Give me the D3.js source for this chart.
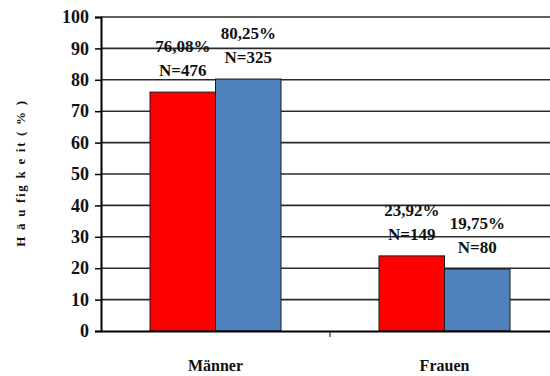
<!DOCTYPE html>
<html>
<head>
<meta charset="utf-8">
<script src="https://cdn.jsdelivr.net/npm/d3@7"></script>
<style>
  body { margin: 0; background: #fff; }
  svg { display: block; }
</style>
</head>
<body>
<svg id="chart" width="550" height="376"></svg>
<script>
// data
var categories = ["Männer", "Frauen"];
var series = ["a", "b"];
var percentValues = [[76.08, 80.25], [23.92, 19.75]];
var countValues = [[476, 325], [149, 80]];
var percentLabels = [["76,08%", "80,25%"], ["23,92%", "19,75%"]];
var yTicks = [0, 10, 20, 30, 40, 50, 60, 70, 80, 90, 100];
var colors = ["#ff0000", "#4f81bd"];

var serifFont = "Liberation Serif";

// set the dimensions (plot runs past the right edge, like the original)
var plotLeft = 101,
  plotRight = 559,
  plotTop = 17,
  plotBottom = 331;

var svg = d3.select("#chart");

var x = d3.scaleBand().domain(categories).range([plotLeft, plotRight]);
var inner = d3.scaleBand().domain(series).range([49, x.bandwidth() - 49]);
var y = d3.scaleLinear().domain([0, 100]).range([plotBottom, plotTop]);

// gridlines
svg
  .selectAll(".grid")
  .data(yTicks.slice(1))
  .enter()
  .append("line")
  .attr("x1", plotLeft)
  .attr("x2", plotRight)
  .attr("y1", (d) => y(d))
  .attr("y2", (d) => y(d))
  .attr("stroke", "#2a2a2a")
  .attr("stroke-width", 1.6);

// y axis
var yAxis = d3.axisLeft(y).tickValues(yTicks).tickSize(6).tickPadding(6);
var gy = svg.append("g").attr("transform", `translate(${plotLeft},0)`).call(yAxis);
gy.attr("font-family", serifFont).attr("font-size", 18).attr("font-weight", "bold");
gy.select(".domain").attr("stroke", "#000").attr("stroke-width", 2);
gy.selectAll(".tick line").attr("stroke", "#000").attr("stroke-width", 1.5);
gy.selectAll(".tick text").attr("fill", "#111");

// bars and labels
categories.forEach(function (cat, i) {
  series.forEach(function (s, j) {
    svg
      .append("rect")
      .attr("x", x(cat) + inner(s))
      .attr("y", y(percentValues[i][j]))
      .attr("width", inner.bandwidth())
      .attr("height", y(0) - y(percentValues[i][j]))
      .attr("fill", colors[j])
      .attr("stroke", "#1a1a1a")
      .attr("stroke-width", 1);

    var cx = x(cat) + inner(s) + inner.bandwidth() / 2;
    var ty = y(percentValues[i][j]) - 16;
    svg
      .append("text")
      .attr("x", cx)
      .attr("y", ty - 24)
      .attr("text-anchor", "middle")
      .attr("fill", "#111")
      .attr("font-family", serifFont)
      .attr("font-weight", "bold")
      .attr("font-size", 17)
      .text(percentLabels[i][j]);
    svg
      .append("text")
      .attr("x", cx)
      .attr("y", ty)
      .attr("text-anchor", "middle")
      .attr("fill", "#111")
      .attr("font-family", serifFont)
      .attr("font-weight", "bold")
      .attr("font-size", 17)
      .text("N=" + countValues[i][j]);
  });
});

// x axis
var xAxis = d3.axisBottom(x).tickSize(0).tickFormat("");
var gx = svg.append("g").attr("transform", `translate(0,${plotBottom})`).call(xAxis);
gx.select(".domain").attr("stroke", "#000").attr("stroke-width", 2);
gx.selectAll(".tick").remove();

// category boundary tick
svg
  .append("line")
  .attr("x1", x(categories[1]))
  .attr("x2", x(categories[1]))
  .attr("y1", plotBottom)
  .attr("y2", plotBottom + 6)
  .attr("stroke", "#000")
  .attr("stroke-width", 1);

// category labels
svg
  .selectAll(".cat")
  .data(categories)
  .enter()
  .append("text")
  .attr("x", (d) => x(d) + x.bandwidth() / 2)
  .attr("y", 371)
  .attr("text-anchor", "middle")
  .attr("fill", "#111")
  .attr("font-family", serifFont)
  .attr("font-weight", "bold")
  .attr("font-size", 16)
  .text((d) => d);

// y axis title
svg
  .append("text")
  .attr("transform", "translate(25,173) rotate(-90)")
  .attr("text-anchor", "middle")
  .attr("fill", "#111")
  .attr("font-family", serifFont)
  .attr("font-weight", "bold")
  .attr("font-size", 13)
  .attr("letter-spacing", 1.7)
  .text("H ä u fig k e it ( % )");
</script>
</body>
</html>
